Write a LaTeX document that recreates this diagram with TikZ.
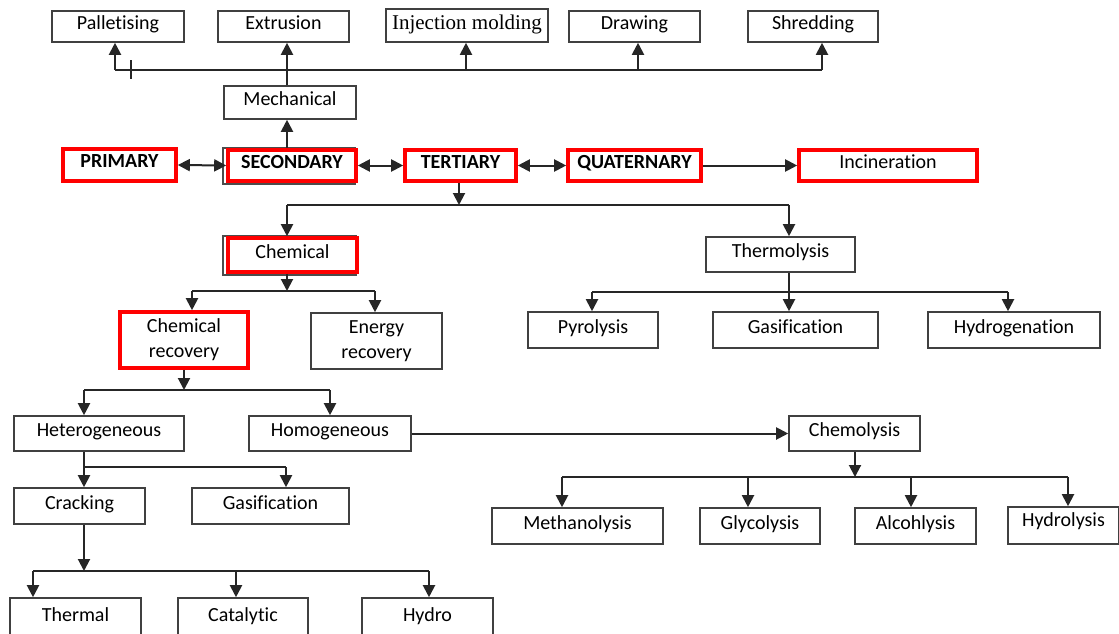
\documentclass[tikz,border=0pt]{standalone}
\usepackage{fontspec}
\setmainfont{Carlito}[Ligatures=NoCommon]
\newfontfamily\serifX{Liberation Serif}
\usetikzlibrary{arrows.meta,backgrounds}
\tikzset{
  box/.style={draw=black!75, line width=1.6pt, inner sep=0pt, align=center, text depth=7pt},
  redbox/.style={draw=red, line width=3.6pt, inner sep=0pt, align=center, text depth=7pt, font=\fontsize{20}{22}\selectfont\bfseries},
  conn/.style={line width=2pt, black!85},
  arr/.style={conn, -{Triangle[length=12pt,width=12pt]}},
  darr/.style={conn, {Triangle[length=12pt,width=12pt]}-{Triangle[length=12pt,width=12pt]}},
  shadowbox/.style={draw=black!70, line width=1.6pt}
}
% \bx[style]{name}{x1}{y1}{x2}{y2}{text}
\newcommand\bx[7][box]{%
  \node[#1, minimum width={(#5-#3)*1pt}, minimum height={(#6-#4)*1pt}]
    (#2) at ({(#3+#5)/2},{(#4+#6)/2}) {#7};}
\begin{document}
\begin{tikzpicture}[x=1pt, y=-1pt, font=\fontsize{20}{23}\selectfont]
\useasboundingbox (0,0) rectangle (1119,634);
\clip (0,0) rectangle (1119,634);
% top row
\bx{pal}{52}{11}{184}{42}{Palletising}
\bx{ext}{218}{11}{349}{42}{Extrusion}
\bx[box,font=\serifX\fontsize{21}{23}\selectfont]{inj}{386}{9}{548}{42}{Injection molding}
\bx{dra}{569}{11}{700}{42}{Drawing}
\bx{shr}{748}{11}{878}{42}{Shredding}
\bx{mech}{224}{86}{356}{119}{Mechanical}
% main row
\bx[redbox]{prim}{63}{149}{176}{181}{PRIMARY}
\bx[redbox]{sec}{228}{150}{356}{181}{SECONDARY}
\bx[redbox]{ter}{405}{150}{516}{181}{TERTIARY}
\bx[redbox]{quat}{568}{150}{701}{181}{QUATERNARY}
\bx[redbox,font=\fontsize{20}{22}\selectfont]{inc}{799}{150}{977}{181}{Incineration}
% chemical / thermolysis
\bx[redbox,font=\fontsize{20}{22}\selectfont]{chem}{228}{238}{357}{272}{Chemical}
\bx{therm}{706}{237}{855}{272}{Thermolysis}
\bx[redbox,font=\fontsize{20}{25}\selectfont,text depth=3pt]{chemrec}{120}{312}{248}{368}{Chemical\\recovery}
\bx[box,font=\fontsize{20}{25}\selectfont,text depth=3pt]{energy}{311}{313}{442}{369}{Energy\\recovery}
\bx{pyro}{528}{312}{658}{348}{Pyrolysis}
\bx{gast}{713}{312}{878}{348}{Gasification}
\bx{hydrog}{928}{312}{1100}{348}{Hydrogenation}
% lower part
\bx{het}{14}{416}{184}{451}{Heterogeneous}
\bx{hom}{249}{416}{411}{451}{Homogeneous}
\bx{chemo}{789}{416}{920}{451}{Chemolysis}
\bx{crack}{14}{488}{145}{524}{Cracking}
\bx{gash}{192}{488}{349}{524}{Gasification}
\bx{meth}{492}{508}{663}{544}{Methanolysis}
\bx{gly}{700}{508}{820}{544}{Glycolysis}
\bx{alc}{855}{508}{976}{544}{Alcohlysis}
\bx[box,text depth=12pt]{hydrol}{1008}{507}{1119}{544}{Hydrolysis}
\bx{thermal}{10}{598}{141}{638}{Thermal}
\bx{cat}{178}{598}{308}{638}{Catalytic}
\bx{hydro}{362}{598}{493}{638}{Hydro}
% shadows behind SECONDARY and Chemical
\begin{scope}[on background layer]
  \draw[shadowbox] ([xshift=-3pt,yshift=-1pt]sec.south west) rectangle ([xshift=-3pt]sec.north east);
  \draw[shadowbox] ([xshift=-3pt,yshift=-1pt]chem.south west) rectangle ([xshift=-3pt]chem.north east);
\end{scope}
% top connectors
\coordinate (busL) at (115,70);
\coordinate (busR) at (822,70);
\coordinate (busI) at (466,70);
\coordinate (busD) at (638,70);
\coordinate (tick) at (131,70);
\coordinate (mx) at (287,0);
\draw[conn] (busL) -- (busR);
\draw[arr] (busL) -- (busL |- pal.south);
\draw[arr] (busI) -- (busI |- inj.south);
\draw[arr] (busD) -- (busD |- dra.south);
\draw[arr] (busR) -- (busR |- shr.south);
\draw[conn] ([yshift=-9pt]tick) -- ([yshift=10pt]tick);
\draw[arr] (mx |- mech.north) -- (mx |- ext.south);
\draw[arr] (mx |- sec.north) -- (mx |- mech.south);
% main row connectors
\draw[darr] (prim.east) -- (sec.west);
\draw[darr] (sec.east) -- (ter.west);
\draw[darr] (ter.east) -- (quat.west);
\draw[arr] (quat.east) -- (inc.west);
% tertiary split
\coordinate (j1) at (459,205);
\coordinate (jL) at (287,205);
\coordinate (jR) at (789,205);
\draw[arr] (j1 |- ter.south) -- (j1);
\draw[conn] (jL) -- (jR);
\draw[arr] (jL) -- (jL |- chem.north);
\draw[arr] (jR) -- (jR |- therm.north);
% chemical split
\coordinate (k1) at (287,291);
\coordinate (kL) at (192,291);
\coordinate (kR) at (375,291);
\draw[arr] (k1 |- chem.south) -- (k1);
\draw[conn] (kL) -- (kR);
\draw[arr] (kL) -- (kL |- chemrec.north);
\draw[arr] (kR) -- (kR |- energy.north);
% thermolysis split
\coordinate (tM) at (789,292);
\coordinate (tL) at (592,292);
\coordinate (tR) at (1008,292);
\draw[conn] (tL) -- (tR);
\draw[arr] (tM |- therm.south) -- (tM |- gast.north);
\draw[arr] (tL) -- (tL |- pyro.north);
\draw[arr] (tR) -- (tR |- hydrog.north);
% chemical recovery split
\coordinate (r1) at (184,390);
\coordinate (rL) at (84,390);
\coordinate (rR) at (330,390);
\draw[arr] (r1 |- chemrec.south) -- (r1);
\draw[conn] (rL) -- (rR);
\draw[arr] (rL) -- (rL |- het.north);
\draw[arr] (rR) -- (rR |- hom.north);
% homogeneous to chemolysis
\draw[arr] (hom.east) -- (chemo.west);
% chemolysis split
\coordinate (c1) at (855,477);
\coordinate (cA) at (562,477);
\coordinate (cB) at (748,477);
\coordinate (cC) at (911,477);
\coordinate (cD) at (1068,477);
\draw[arr] (c1 |- chemo.south) -- (c1);
\draw[conn] (cA) -- (cD);
\draw[arr] (cA) -- (cA |- meth.north);
\draw[arr] (cB) -- (cB |- gly.north);
\draw[arr] (cC) -- (cC |- alc.north);
\draw[arr] (cD) -- (cD |- hydrol.north);
% heterogeneous split
\coordinate (hL) at (84,467);
\coordinate (hR) at (286,467);
\draw[arr] (hL |- het.south) -- (hL |- crack.north);
\draw[conn] (hL) -- (hR);
\draw[arr] (hR) -- (hR |- gash.north);
% cracking split
\coordinate (q1) at (84,571);
\coordinate (qA) at (33,571);
\coordinate (qB) at (236,571);
\coordinate (qC) at (429,571);
\draw[arr] (q1 |- crack.south) -- (q1);
\draw[conn] (qA) -- (qC);
\draw[arr] (qA) -- (qA |- thermal.north);
\draw[arr] (qB) -- (qB |- cat.north);
\draw[arr] (qC) -- (qC |- hydro.north);
\end{tikzpicture}
\end{document}
